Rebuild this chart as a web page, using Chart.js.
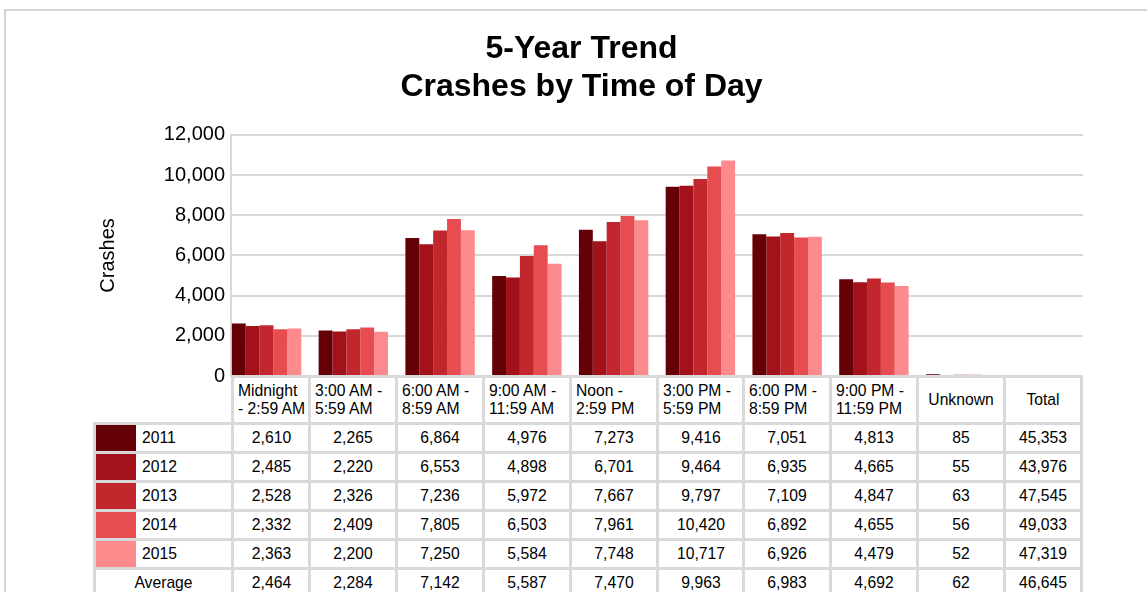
<!DOCTYPE html>
<html>
<head>
<meta charset="utf-8">
<script src="https://cdn.jsdelivr.net/npm/chart.js@4.4.1/dist/chart.umd.min.js"></script>
<style>
html,body{margin:0;padding:0;background:#fff;}
body{width:1147px;height:592px;overflow:hidden;position:relative;font-family:"Liberation Sans",Arial,sans-serif;}
#frame{position:absolute;left:4px;top:9px;width:1200px;height:700px;border:2px solid #d4d4d4;box-sizing:border-box;}
#wrap{position:absolute;left:0;top:0;width:1147px;height:592px;}
#table{position:absolute;left:0;top:0;}
.cell{position:absolute;box-sizing:border-box;border:3px solid #d9d9d9;background:#fff;font-size:15.7px;color:#000;
  display:flex;align-items:center;justify-content:center;white-space:nowrap;}
.cell.head{justify-content:flex-start;padding-left:4px;line-height:18px;}
.cell.head.mid{justify-content:center;padding-left:0;}
.swatch{position:absolute;left:0;top:0;bottom:0;width:40px;}
.lbl{position:absolute;left:46px;top:0;bottom:0;display:flex;align-items:center;}
</style>
</head>
<body>
<div id="frame"></div>
<div id="wrap"><canvas id="crashChart" width="1147" height="592"></canvas></div>
<div id="table"></div>
<script>
// column headers (chart categories), split into the lines shown in the table
const columns = [
  ["Midnight", "- 2:59 AM"],
  ["3:00 AM -", "5:59 AM"],
  ["6:00 AM -", "8:59 AM"],
  ["9:00 AM -", "11:59 AM"],
  ["Noon -", "2:59 PM"],
  ["3:00 PM -", "5:59 PM"],
  ["6:00 PM -", "8:59 PM"],
  ["9:00 PM -", "11:59 PM"],
  ["Unknown"],
  ["Total"]
];

const years = ["2011", "2012", "2013", "2014", "2015"];
const yearColors = ["#640006", "#a3121b", "#c3272e", "#e74c51", "#fd8a8c"];

// crashes per time slot (last slot = Unknown); Total column has no bar
const crashes2011 = [2610, 2265, 6864, 4976, 7273, 9416, 7051, 4813, 85];
const crashes2012 = [2485, 2220, 6553, 4898, 6701, 9464, 6935, 4665, 55];
const crashes2013 = [2528, 2326, 7236, 5972, 7667, 9797, 7109, 4847, 63];
const crashes2014 = [2332, 2409, 7805, 6503, 7961, 10420, 6892, 4655, 56];
const crashes2015 = [2363, 2200, 7250, 5584, 7748, 10717, 6926, 4479, 52];
const yearTotals = [45353, 43976, 47545, 49033, 47319];

const averages = [2464, 2284, 7142, 5587, 7470, 9963, 6983, 4692, 62];
const averageTotal = 46645;

const yearValues = [crashes2011, crashes2012, crashes2013, crashes2014, crashes2015];
const fmt = v => v.toLocaleString("en-US");
const FONT = "'Liberation Sans', Arial, sans-serif";

const datasets = years.map((y, i) => ({
  label: y,
  data: yearValues[i].map((v, k) => ({ x: k, y: v })),
  backgroundColor: yearColors[i],
  borderWidth: 0
}));

const chart = new Chart(document.getElementById("crashChart"), {
  type: "bar",
  data: { datasets },
  options: {
    responsive: false,
    animation: false,
    layout: { padding: { left: 80, right: 64, top: 0, bottom: 216 } },
    datasets: { bar: { categoryPercentage: 0.8, barPercentage: 1 } },
    plugins: {
      legend: { display: false },
      tooltip: { enabled: false },
      title: {
        display: true,
        text: ["5-Year Trend", "Crashes by Time of Day"],
        color: "#000",
        font: { family: FONT, size: 32, weight: "bold", lineHeight: 1.2 },
        padding: { top: 30, bottom: 28 }
      }
    },
    scales: {
      // slot k sits at x = k; range leaves the bar groups flush with the axis
      x: { type: "linear", display: false, offset: false, min: -0.41, max: 9.41 },
      y: {
        min: 0, max: 12000,
        ticks: { stepSize: 2000, color: "#000", padding: 6, font: { family: FONT, size: 20 }, callback: v => fmt(v) },
        grid: { color: "#d9d9d9", lineWidth: 2, drawTicks: false },
        border: { color: "#d9d9d9", width: 2 },
        title: { display: true, text: "Crashes", color: "#000", padding: { top: 16, bottom: 0 }, font: { family: FONT, size: 20 } },
        afterFit: s => { s.width = 151; }
      }
    }
  }
});

// data table under the plot, column edges taken from the x scale
function buildTable(){
  const area = chart.chartArea;
  const xs = chart.scales.x;
  const edges = [94, area.left + 1];
  for (let k = 0; k < columns.length - 1; k++) edges.push(xs.getPixelForValue(k + 0.5));
  edges.push(area.right - 2);
  const headTop = 376, headBottom = 423, rowH = 29;
  const box = document.getElementById("table");

  function cell(x0, y0, x1, y1, cls){
    const d = document.createElement("div");
    d.className = "cell" + (cls ? " " + cls : "");
    d.style.left = Math.round(x0 - 1.5) + "px";
    d.style.top = Math.round(y0 - 1.5) + "px";
    d.style.width = Math.round(x1 - x0 + 3) + "px";
    d.style.height = Math.round(y1 - y0 + 3) + "px";
    box.appendChild(d);
    return d;
  }

  columns.forEach((lines, c) => {
    const d = cell(edges[c + 1], headTop, edges[c + 2], headBottom, lines.length > 1 ? "head" : "head mid");
    d.innerHTML = lines.join("<br>");
  });

  years.forEach((y, r) => {
    const y0 = headBottom + r * rowH, y1 = y0 + rowH;
    const lg = cell(edges[0], y0, edges[1], y1);
    lg.innerHTML = `<div class="swatch" style="background:${yearColors[r]}"></div><div class="lbl">${y}</div>`;
    yearValues[r].concat([yearTotals[r]]).forEach((v, c) => {
      cell(edges[c + 1], y0, edges[c + 2], y1).textContent = fmt(v);
    });
  });

  const ay0 = headBottom + years.length * rowH, ay1 = ay0 + rowH;
  cell(edges[0], ay0, edges[1], ay1).textContent = "Average";
  averages.concat([averageTotal]).forEach((v, c) => {
    cell(edges[c + 1], ay0, edges[c + 2], ay1).textContent = fmt(v);
  });
}
buildTable();
</script>
</body>
</html>
